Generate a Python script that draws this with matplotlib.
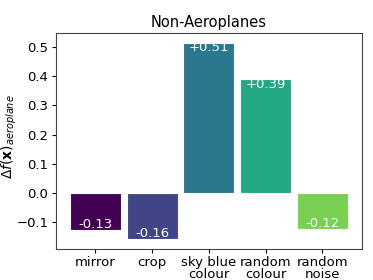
import numpy as np
import matplotlib
matplotlib.use("Agg")
import matplotlib.pyplot as plt

labels = ["mirror", "crop", "sky blue\ncolour", "random\ncolour", "random\nnoise"]
values = [-0.126, -0.157, 0.513, 0.388, -0.122]
shown = ["-0.13", "-0.16", "+0.51", "+0.39", "-0.12"]

colors = plt.cm.viridis(np.linspace(0, 0.8, len(values)))

fig, ax = plt.subplots(figsize=(3.73, 2.8), dpi=100)
x = np.arange(len(values))
bars = ax.bar(x, values, width=0.9, color=colors, edgecolor="white", linewidth=0.8)

for b, v, s in zip(bars, values, shown):
    cx = b.get_x() + b.get_width() / 2
    if v >= 0:
        ax.annotate(s, (cx, v), ha="center", va="top", color="white", fontsize=9.5,
                    textcoords="offset points", xytext=(0, 1))
    else:
        ax.annotate(s, (cx, v), ha="center", va="bottom", color="white", fontsize=9.5,
                    textcoords="offset points", xytext=(0, -1))

ax.set_xticks(x)
ax.set_xticklabels(labels, fontsize=9.5, linespacing=0.95)
ax.tick_params(axis="x", length=3, pad=2)
ax.tick_params(axis="y", labelsize=9.5, length=3, pad=2.5)
ax.set_yticks([-0.1, 0.0, 0.1, 0.2, 0.3, 0.4, 0.5])
ax.set_title("Non-Aeroplanes", fontsize=10.5, pad=4)
ax.set_ylabel(r"$\Delta f(\mathbf{x})_{aeroplane}$", fontsize=10)
ax.yaxis.set_label_coords(-0.12, 0.52)
for sp in ax.spines.values():
    sp.set_color("#444444")

fig.subplots_adjust(left=0.15, right=0.97, top=0.882, bottom=0.111)
fig.savefig("out.png", dpi=100)
